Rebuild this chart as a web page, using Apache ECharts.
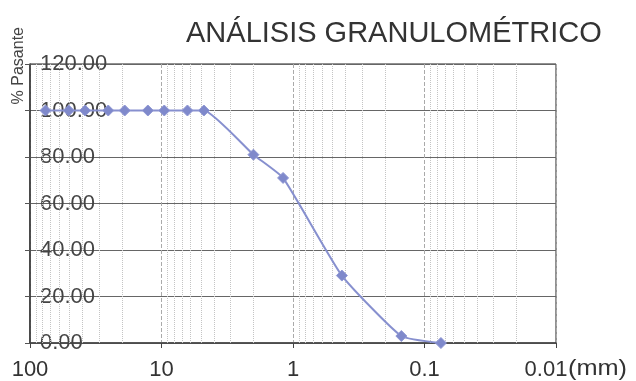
<!DOCTYPE html>
<html>
<head>
<meta charset="utf-8">
<script src="https://cdn.jsdelivr.net/npm/echarts@6/dist/echarts.min.js"></script>
<style>
html,body{margin:0;padding:0;background:#fff;}
#chart{width:636px;height:381px;}
</style>
</head>
<body>
<div id="chart"></div>
<script>
// Sieve openings (mm) and percentage passing
const sieveSizes = [76.2, 50.8, 38.1, 25.4, 19.05, 12.7, 9.525, 6.35, 4.76, 2.0, 1.19, 0.425, 0.15, 0.075];
const percentPassing = [100, 100, 100, 100, 100, 100, 100, 100, 100, 81, 71, 29, 3, 0];
const xTickLabels = ['100', '10', '1', '0.1', '0.01'];
const yTicks = [0, 20, 40, 60, 80, 100, 120];
const decades = [0.01, 0.1, 1, 10];
const minorMultipliers = [2, 3, 4, 5, 6, 7, 8, 9];

const minorLines = [];
decades.forEach(d => minorMultipliers.forEach(m => minorLines.push({ xAxis: +(d * m).toPrecision(3) })));

const FONT = 'Liberation Sans';
const chart = echarts.init(document.getElementById('chart'), null, { renderer: 'canvas' });
chart.setOption({
  animation: false,
  backgroundColor: '#fff',
  title: {
    text: 'ANÁLISIS GRANULOMÉTRICO',
    left: 181, top: 14,
    textStyle: { fontFamily: FONT, fontSize: 29, fontWeight: 'normal', color: '#333' }
  },
  grid: { left: 30, right: 80, top: 64, bottom: 38, show: true, borderColor: '#222', borderWidth: 1 },
  xAxis: {
    type: 'log', logBase: 10, min: 0.01, max: 100, inverse: true,
    axisLine: { show: true, lineStyle: { color: '#444', width: 1.5 } },
    axisTick: { show: true, length: 5, lineStyle: { color: '#444' } },
    axisLabel: {
      fontFamily: FONT, fontSize: 22, color: '#333', margin: 16,
      formatter: v => {
        const s = String(+(+v).toPrecision(3));
        if (xTickLabels.indexOf(s) < 0) return '';
        return s === xTickLabels[xTickLabels.length - 1] ? '{last|' + s + '}' : s;
      },
      rich: {
        last: { fontFamily: FONT, fontSize: 22, color: '#333', padding: [0, 20, 0, 0] }
      }
    },
    splitLine: { show: true, lineStyle: { color: '#aaa', type: 'dashed', width: 1 } }
  },
  yAxis: {
    type: 'value', min: 0, max: 120, interval: 20,
    axisLine: { show: true, lineStyle: { color: '#333', width: 1.5 } },
    axisTick: { show: true, length: 5, lineStyle: { color: '#555' } },
    axisLabel: {
      inside: true, margin: 10, fontFamily: FONT, fontSize: 22, color: '#444',
      formatter: v => yTicks.indexOf(v) >= 0 ? v.toFixed(2) : ''
    },
    splitLine: { show: true, lineStyle: { color: '#666', width: 1.2 } }
  },
  graphic: [
    {
      type: 'text', left: 11, top: 27, rotation: Math.PI / 2,
      style: { text: '% Pasante', fontFamily: FONT, fontSize: 16, fill: '#444' }
    },
    {
      type: 'text', left: 568, top: 358, scaleX: 1.15, z: 100,
      style: { text: '(mm)', fontFamily: FONT, fontSize: 22, fill: '#333' }
    }
  ],
  series: [
    {
      type: 'line',
      data: sieveSizes.map((s, i) => [s, percentPassing[i]]),
      smooth: 0.15,
      symbol: 'diamond', symbolSize: 11,
      lineStyle: { color: '#8790cf', width: 2 },
      itemStyle: { color: '#7f89cb', borderColor: '#8f97d4', borderWidth: 1 },
      z: 5,
      markLine: {
        silent: true, symbol: 'none', label: { show: false },
        lineStyle: { color: '#c4c4c4', type: 'dotted', width: 1 },
        data: minorLines, z: 1
      }
    }
  ]
});
</script>
</body>
</html>
